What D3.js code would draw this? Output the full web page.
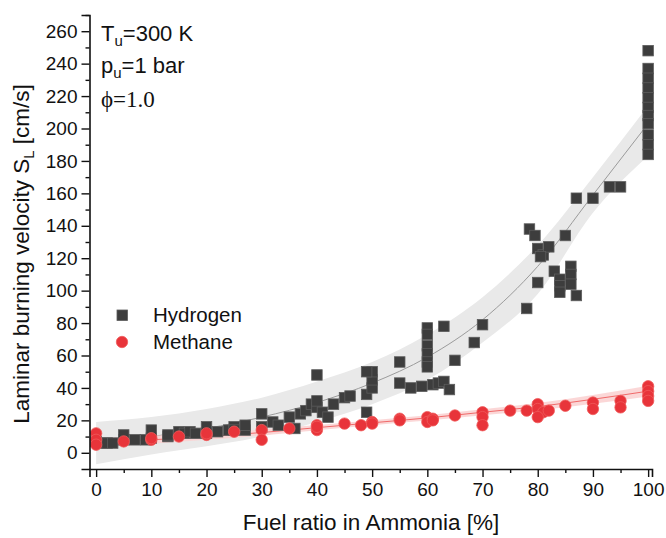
<!DOCTYPE html>
<html>
<head>
<meta charset="utf-8">
<script src="https://cdn.jsdelivr.net/npm/d3@7/dist/d3.min.js"></script>
<style>
  html, body { margin: 0; padding: 0; background: #fff; }
  svg { display: block; font-family: Arial, "Liberation Sans", sans-serif; }
</style>
</head>
<body>
<svg id="chart" width="666" height="538"></svg>
<script>
// Hydrogen / ammonia blends: laminar burning velocity (cm/s)
const hydrogenX = [0,1,2,3,5,5,7,9,10,10,13,13,15,16,17,18,20,20,22,24,25,25,27,27,30,30,32,33,35,36,
  37,38,39,40,40,41,40,42,43,45,46,49,49,50,50,50,49,55,55,57,59,
  60,60,60,60,60,60,61,62,63,64,63,65,68.5,70,78,80,78.5,79.5,80,81,82,80.5,85,83,84,84,84,86,86,86,87,
  87,90,93,95,100,100,100,100,100,100,100,100,100,100,100];
const hydrogenY = [7,6,6,6,8,11,8,8,9,14,10,11,13,12,13,12,12,16,13,14,16,14,14,17,16,24,19,17,22,15,
  24,26,30,28,32,25,48,22,30,34,35,25,36,40,45,50,50,56,43,40,41,
  77,73,66,61,56,53,42,43,44,39,78,57,68,79,89,105,138,134,126,122,127,121,134,112,107,103,99,115,110,104,97,
  157,157,164,164,248,237,231,225,219,213,208,203,196,190,184];

// Methane / ammonia blends
const methaneX = [0,0,0,5,10,10,15,20,20,25,30,30,35,40,40,40,45,48,50,50,55,55,
  60,60,61,61,65,70,70,70,75,78,80,80,81,80,82,85,90,90,95,95,100,100,100,100];
const methaneY = [12,8,5,7,8,9,10,11,12,13,14,8,15,17,14,16,18,17,19,18,21,20,
  22,19,21,20,23,25,22,17,26,26,30,27,25,22,26,29,31,27,32,28,41,38,35,32];

// Fitted curves with their confidence bands, sampled every 10 %
const fitX = [0,10,20,30,40,50,60,70,80,90,100];
const fitHydrogen = [6,10,15,22,31,43,59,82,115,159,203];
const fitHydrogenUpper = [19,22,27,34,44,56,73,96,128,170,214];
const fitHydrogenLower = [-7,-1,4,10,19,30,45,68,98,148,183];
const fitMethane = [6,8,10,12.5,15.5,18.5,21.5,25,28.5,33,38];
const fitMethaneUpper = [9,10.5,12,14.3,17.1,20,23.1,26.8,30.7,35.7,41.3];
const fitMethaneLower = [3,5.5,8,10.7,13.9,17,19.9,23.2,26.3,30.3,34.7];

const xTicks = [0,10,20,30,40,50,60,70,80,90,100];
const yTicks = [0,20,40,60,80,100,120,140,160,180,200,220,240,260];

const svg = d3.select("#chart");
const x = d3.scaleLinear().domain([-1.2, 100.7]).range([89.5, 652]);
const y = d3.scaleLinear().domain([-10, 270]).range([469, 15]);

// confidence bands
const band = (lo, hi) => d3.area()
  .x((d, i) => x(fitX[i]))
  .y0((d, i) => y(lo[i]))
  .y1((d, i) => y(hi[i]))
  .curve(d3.curveMonotoneX)(fitX);
const line = vals => d3.line()
  .x((d, i) => x(fitX[i]))
  .y((d, i) => y(vals[i]))
  .curve(d3.curveMonotoneX)(fitX);

svg.append("path").attr("d", band(fitHydrogenLower, fitHydrogenUpper))
  .attr("fill", "#e9e9e9");
svg.append("path").attr("d", line(fitHydrogen))
  .attr("fill", "none").attr("stroke", "#9b9b9b").attr("stroke-width", 1);
svg.append("path").attr("d", band(fitMethaneLower, fitMethaneUpper))
  .attr("fill", "#fbd3d3").attr("opacity", 0.9);
svg.append("path").attr("d", line(fitMethane))
  .attr("fill", "none").attr("stroke", "#f06a6a").attr("stroke-width", 1);

// markers
const sq = 10.5;
svg.append("g").selectAll("rect").data(hydrogenX).join("rect")
  .attr("x", (d) => x(d) - sq / 2)
  .attr("y", (d, i) => y(hydrogenY[i]) - sq / 2)
  .attr("width", sq).attr("height", sq)
  .attr("fill", "#3d3d3d").attr("stroke", "#5c5c5c").attr("stroke-width", 0.8);

svg.append("g").selectAll("circle").data(methaneX).join("circle")
  .attr("cx", (d) => x(d))
  .attr("cy", (d, i) => y(methaneY[i]))
  .attr("r", 5.7)
  .attr("fill", "#e8343a").attr("stroke", "#f05a5a").attr("stroke-width", 0.8);

// axes
const yAxis = svg.append("g").attr("transform", `translate(${x.range()[0]},0)`)
  .call(d3.axisLeft(y).tickValues(yTicks).tickSize(8).tickPadding(4));
yAxis.append("g").call(d3.axisLeft(y).tickValues(d3.range(10, 280, 20)).tickSize(4).tickFormat(""));
const xAxis = svg.append("g").attr("transform", `translate(0,${y.range()[0]})`)
  .call(d3.axisBottom(x).tickValues(xTicks).tickSize(8).tickPadding(6));
xAxis.append("g").call(d3.axisBottom(x).tickValues(d3.range(5, 100, 10)).tickSize(4).tickFormat(""));

svg.selectAll(".domain").attr("stroke", "#111").attr("stroke-width", 1.6);
svg.selectAll(".tick line").attr("stroke", "#111").attr("stroke-width", 1.4);
svg.selectAll(".domain").filter(function () { return this.parentNode.parentNode !== svg.node(); }).remove();
svg.selectAll(".tick text").attr("font-size", 19).attr("fill", "#111")
  .attr("font-family", "Arial, 'Liberation Sans', sans-serif");
yAxis.selectAll(".tick").each(function () { d3.select(this).select("text").attr("x", -12); });

// axis titles
const yt = svg.append("text")
  .attr("transform", "translate(29,254) rotate(-90)")
  .attr("text-anchor", "middle").attr("font-size", 22.5).attr("fill", "#111");
yt.append("tspan").text("Laminar burning velocity S");
yt.append("tspan").attr("font-size", 15).attr("dy", 5).text("L");
yt.append("tspan").attr("dy", -5).text(" [cm/s]");

svg.append("text").attr("x", 371).attr("y", 530)
  .attr("text-anchor", "middle").attr("font-size", 22.5).attr("fill", "#111")
  .text("Fuel ratio in Ammonia [%]");

// conditions
const t1 = svg.append("text").attr("x", 101).attr("y", 41).attr("font-size", 22).attr("fill", "#111");
t1.append("tspan").text("T");
t1.append("tspan").attr("font-size", 15).attr("dy", 5).text("u");
t1.append("tspan").attr("dy", -5).text("=300 K");
const t2 = svg.append("text").attr("x", 101).attr("y", 73).attr("font-size", 22).attr("fill", "#111");
t2.append("tspan").text("p");
t2.append("tspan").attr("font-size", 15).attr("dy", 5).text("u");
t2.append("tspan").attr("dy", -5).text("=1 bar");
svg.append("text").attr("x", 101).attr("y", 107).attr("font-size", 23).attr("fill", "#111")
  .attr("font-family", "'Liberation Serif', 'Times New Roman', serif")
  .text("\u03D5=1.0");

// legend
const lg = svg.append("g");
lg.append("rect").attr("x", 117).attr("y", 310).attr("width", sq).attr("height", sq)
  .attr("fill", "#3d3d3d").attr("stroke", "#5c5c5c").attr("stroke-width", 0.8);
lg.append("text").attr("x", 153).attr("y", 322).attr("font-size", 20.5).attr("fill", "#111").text("Hydrogen");
lg.append("circle").attr("cx", 122).attr("cy", 342).attr("r", 5.7)
  .attr("fill", "#e8343a").attr("stroke", "#f05a5a").attr("stroke-width", 0.8);
lg.append("text").attr("x", 153).attr("y", 349).attr("font-size", 20.5).attr("fill", "#111").text("Methane");
</script>
</body>
</html>
